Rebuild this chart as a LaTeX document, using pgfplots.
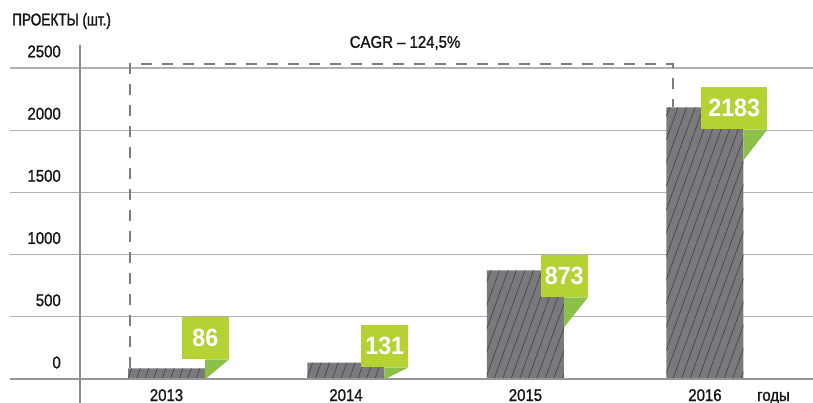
\documentclass[border=0pt]{standalone}
\usepackage{fontspec}
\setmainfont{Liberation Sans}[FakeStretch=0.88,FakeBold=1.2]
\newfontfamily\titlefont{Liberation Sans}[FakeStretch=0.8,FakeBold=1.6]
\newfontfamily\boxfont{Liberation Sans}[FakeStretch=0.93]
\usepackage{pgfplots}
\pgfplotsset{compat=1.18}
\usetikzlibrary{patterns.meta}
\definecolor{barfill}{RGB}{122,122,126}
\definecolor{hatch}{RGB}{70,70,72}
\definecolor{boxgreen}{RGB}{180,210,52}
\definecolor{fold}{RGB}{140,192,72}
\definecolor{gridgray}{RGB}{176,176,178}
\definecolor{axisgray}{RGB}{140,140,142}
\definecolor{basegray}{RGB}{150,150,152}
\definecolor{dashgray}{RGB}{125,125,127}
\definecolor{txt}{RGB}{20,20,20}
\newcommand{\lbl}{\fontsize{17bp}{20bp}\selectfont}
\tikzset{boxnode/.style={fill=boxgreen, text=white, inner sep=0pt, minimum height=42bp,
    font=\boxfont\bfseries\fontsize{25bp}{28bp}\selectfont}}
\begin{document}
\begin{tikzpicture}
\begin{axis}[name=ax, at={(0,0)}, anchor=south west,
  scale only axis, width=803bp, height=339bp,
  xmin=-0.872, xmax=3.602, ymin=0, ymax=2725, enlargelimits=false, clip=false,
  ybar, bar width=77bp,
  axis line style={draw=none}, tick style={draw=none}, major tick length=0pt,
  ytick={0,500,1000,1500,2000,2500}, yticklabels={0,500,1000,1500,2000,2500},
  ymajorgrids, grid style={color=gridgray, line width=1.3bp},
  yticklabel style={anchor=east, inner sep=0pt, xshift=51bp, yshift=16.5bp, font=\lbl, text=txt},
  xtick={0,1,2,3}, xticklabels={2013,2014,2015,2016},
  xticklabel style={anchor=base, inner sep=0pt, yshift=-22bp, font=\lbl, text=txt},
]
\draw[dashgray, line width=2.5bp, dash pattern=on 11bp off 10bp]
  (axis cs:-0.203,86) -- (axis cs:-0.203,2532) -- (axis cs:2.822,2532) -- (axis cs:2.822,2183);
\addplot[fill=barfill, draw=none,
  postaction={pattern={Lines[angle=70,distance=8bp,line width=0.7bp]}, pattern color=hatch}]
  coordinates {(0,86) (1,131) (2,873) (3,2183)};
\draw[basegray, line width=2.2bp] (rel axis cs:0,0) -- (rel axis cs:1,0);
\draw[axisgray, line width=2bp] (axis cs:-0.482,2685) -- (axis cs:-0.482,-193);
\node[boxnode, minimum width=47bp, anchor=north east] (b1) at (axis cs:0.3482,498) {86};
\node[boxnode, minimum width=47bp, anchor=north east] (b2) at (axis cs:1.3482,434) {131};
\node[boxnode, minimum width=47bp, anchor=north east] (b3) at (axis cs:2.3482,997) {873};
\node[boxnode, minimum width=66bp, anchor=north east] (b4) at (axis cs:3.3482,2347) {2183};
\fill[fold] ([xshift=-24bp]b1.south east) -- (b1.south east) -- ([xshift=-24bp,yshift=-20bp]b1.south east) -- cycle;
\fill[fold] ([xshift=-24bp]b2.south east) -- (b2.south east) -- ([xshift=-24bp,yshift=-12bp]b2.south east) -- cycle;
\fill[fold] ([xshift=-24bp]b3.south east) -- (b3.south east) -- ([xshift=-24bp,yshift=-30bp]b3.south east) -- cycle;
\fill[fold] ([xshift=-24bp]b4.south east) -- (b4.south east) -- ([xshift=-24bp,yshift=-31bp]b4.south east) -- cycle;
\node[font=\lbl, text=txt] at (axis cs:1.329,2701) {CAGR – 124,5\%};
\node[anchor=base west, inner sep=0pt, yshift=-22bp, font=\lbl, text=txt] at (axis cs:3.29,0) {годы};
\end{axis}
\node[anchor=west, inner sep=0pt, text=txt, font=\titlefont\fontsize{17bp}{20bp}\selectfont]
  at ([xshift=2bp,yshift=358bp]ax.south west) {ПРОЕКТЫ (шт.)};
\pgfresetboundingbox
\path ([xshift=-10bp,yshift=-24bp]ax.south west) rectangle ([yshift=379bp]ax.south east);
\end{tikzpicture}
\end{document}
